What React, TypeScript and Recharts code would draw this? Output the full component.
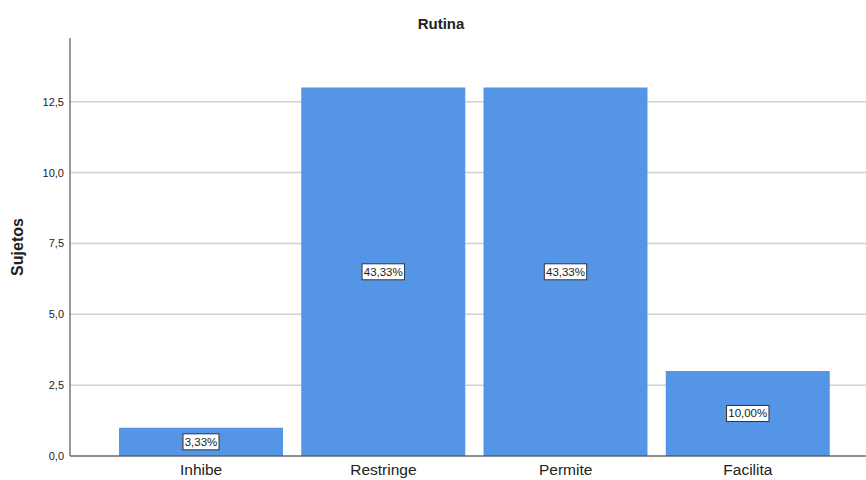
import { BarChart, Bar, XAxis, YAxis, CartesianGrid, LabelList } from "recharts";

const categories = ["Inhibe", "Restringe", "Permite", "Facilita"];
const sujetos = [1, 13, 13, 3];
const porcentajes = ["3,33%", "43,33%", "43,33%", "10,00%"];
const yTicks = [0, 2.5, 5, 7.5, 10, 12.5];

const data = categories.map((name, i) => ({
  name,
  sujetos: sujetos[i],
  pct: porcentajes[i],
}));

const FONT = "'Liberation Sans', Arial, sans-serif";

function PctLabel(props: any) {
  const { x, y, width, height, value } = props;
  const cx = x + width / 2;
  const cy = y + height / 2;
  const w = String(value).length * 6.4 + 4;
  return (
    <g>
      <rect
        x={cx - w / 2}
        y={cy - 8}
        width={w}
        height={16}
        fill="#ffffff"
        stroke="#333333"
        strokeWidth={1}
      />
      <text
        x={cx}
        y={cy + 4}
        textAnchor="middle"
        fontSize={11.5}
        fontFamily={FONT}
        fill="#222222"
      >
        {value}
      </text>
    </g>
  );
}

export default function App() {
  return (
    <div style={{ position: "absolute", left: 0, top: 0, width: 866, height: 480, background: "#fff" }}>
      <BarChart
        width={866}
        height={480}
        data={data}
        margin={{ top: 38, right: 0, bottom: 0, left: 0 }}
        barCategoryGap={9}
      >
        <text x={441} y={29} textAnchor="middle" fontSize={15} fontWeight="bold" fontFamily={FONT} fill="#222">
          Rutina
        </text>
        <CartesianGrid
          vertical={false}
          horizontalValues={yTicks}
          stroke="#d0d0d0"
          strokeWidth={1.5}
        />
        <XAxis
          dataKey="name"
          height={24}
          padding={{ left: 40, right: 27 }}
          tickLine={false}
          axisLine={{ stroke: "#444", strokeWidth: 1 }}
          tick={{ fontSize: 15.5, fontFamily: FONT, fill: "#222", dy: 8 }}
          tickMargin={0}
          tickSize={0}
        />
        <YAxis
          width={70}
          domain={[0, 14.75]}
          ticks={yTicks}
          interval={0}
          tickFormatter={(v: number) => v.toFixed(1).replace(".", ",")}
          tickLine={false}
          tickSize={0}
          tickMargin={6}
          axisLine={{ stroke: "#777", strokeWidth: 1.5 }}
          tick={{ fontSize: 11, fontFamily: FONT, fill: "#222" }}
          label={{
            value: "Sujetos",
            angle: -90,
            position: "insideLeft",
            offset: 17,
            style: { fontSize: 16, fontWeight: "bold", fontFamily: FONT, fill: "#222", textAnchor: "middle" },
          }}
        />
        <Bar dataKey="sujetos" fill="#5595e5" isAnimationActive={false}>
          <LabelList dataKey="pct" content={<PctLabel />} />
        </Bar>
      </BarChart>
    </div>
  );
}
